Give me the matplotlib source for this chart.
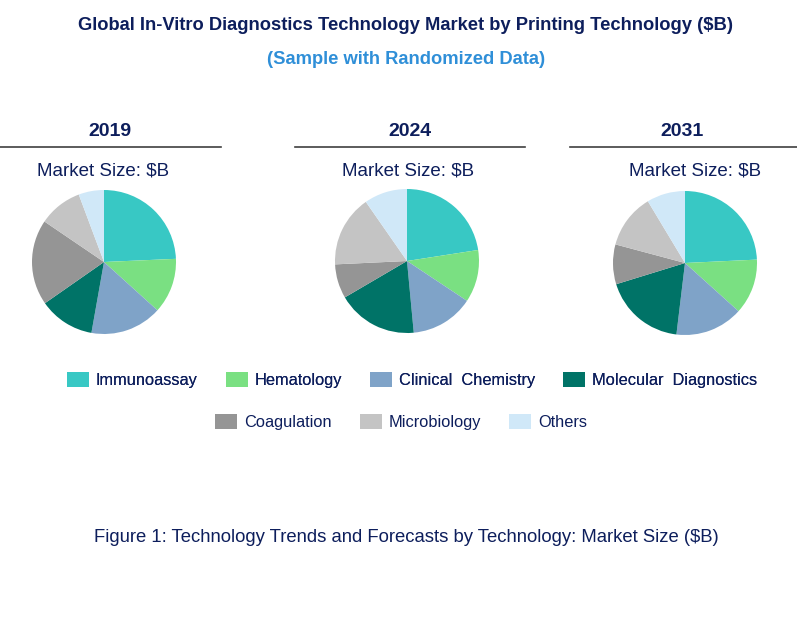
import matplotlib.pyplot as plt
from matplotlib.patches import Patch
from matplotlib.lines import Line2D

plt.rcParams['font.family'] = ['Liberation Sans', 'DejaVu Sans']

# segment names, colours and shares (%)
segments = ['Immunoassay', 'Hematology', 'Clinical  Chemistry', 'Molecular  Diagnostics',
            'Coagulation', 'Microbiology', 'Others']
colors = ['#38C8C4', '#7AE082', '#7FA3C8', '#007367', '#959595', '#C4C4C4', '#D0E8F8']
years = ['2019', '2024', '2031']
share_2019 = [24.3, 12.4, 16.1, 12.5, 19.2, 9.8, 5.7]
share_2024 = [22.6, 11.8, 14.2, 18.1, 7.7, 16.1, 9.7]
share_2031 = [24.2, 12.4, 15.2, 18.3, 8.9, 12.2, 8.6]
shares = [share_2019, share_2024, share_2031]

navy = '#0D1E5C'
W, H = 797, 621


def fx(x):
    return x / W


def fy(y):
    return 1 - y / H


fig = plt.figure(figsize=(W / 100, H / 100), dpi=100)

fig.text(fx(405), fy(26), 'Global In-Vitro Diagnostics Technology Market by Printing Technology ($B)',
         ha='center', va='center', fontsize=13.2, fontweight='bold', color=navy)
fig.text(fx(406), fy(60), '(Sample with Randomized Data)',
         ha='center', va='center', fontsize=13.2, fontweight='bold', color='#2F8FD8')

pie_centers = [(104, 262), (407, 261), (685, 263)]
radius = 72
year_x = [110, 410, 682]
line_spans = [(0, 221), (295, 525), (570, 797)]
label_x = [103, 408, 695]

for i, yr in enumerate(years):
    cx, cy = pie_centers[i]
    ax = fig.add_axes([fx(cx - radius), fy(cy + radius), 2 * radius / W, 2 * radius / H])
    ax.pie(shares[i], colors=colors, startangle=90, counterclock=False, radius=1,
           wedgeprops=dict(linewidth=0))
    ax.set_xlim(-1, 1)
    ax.set_ylim(-1, 1)
    ax.set_aspect('auto')
    ax.axis('off')

    fig.text(fx(year_x[i]), fy(131), yr, ha='center', va='center',
             fontsize=14, fontweight='bold', color=navy)
    x0, x1 = line_spans[i]
    fig.add_artist(Line2D([fx(x0), fx(x1)], [fy(147), fy(147)], color='#404040', lw=1.2))
    fig.text(fx(label_x[i]), fy(171), 'Market Size: $B', ha='center', va='center',
             fontsize=13.5, color=navy)

handles = [Patch(facecolor=c, edgecolor='none', label=s) for s, c in zip(segments, colors)]
leg_kw = dict(loc='center', frameon=False, fontsize=11.8, handlelength=1.35, handleheight=1.04,
              handletextpad=0.4, columnspacing=1.72, labelcolor=navy, borderpad=0)
leg1 = fig.legend(handles=handles[:4], ncol=4, bbox_to_anchor=(fx(412), fy(380)), **leg_kw)
fig.add_artist(leg1)
fig.legend(handles=handles[4:], ncol=3, bbox_to_anchor=(fx(401), fy(422)), **leg_kw)

fig.text(fx(406), fy(538), 'Figure 1: Technology Trends and Forecasts by Technology: Market Size ($B)',
         ha='center', va='center', fontsize=13.3, color=navy)

fig.savefig('out.png', dpi=100)
